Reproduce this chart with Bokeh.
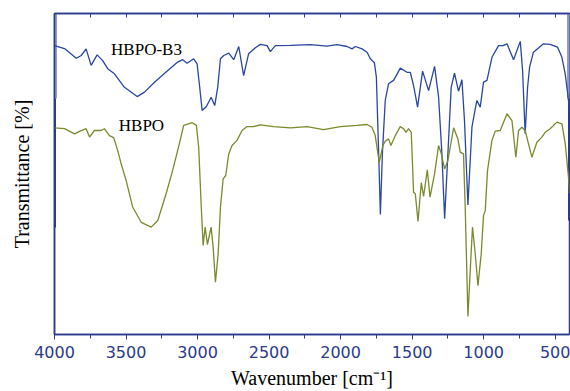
from bokeh.plotting import figure
from bokeh.models import Range1d, LinearAxis, FixedTicker, Label
from bokeh.embed import file_html
from bokeh.resources import INLINE

# HBPO-B3 spectrum (wavenumber cm-1, transmittance arb. units)
wn_b3 = [4000, 3930, 3848, 3813, 3779, 3744, 3702, 3663, 3628, 3581, 3511, 3422, 3371, 3301,
         3208, 3139, 3104, 3073, 3027, 3003, 2985, 2968, 2938, 2905, 2880, 2859, 2840, 2817,
         2782, 2747, 2712, 2678, 2643, 2596, 2561, 2514, 2491, 2456, 2351, 2212, 2095, 2025,
         1955, 1920, 1897, 1850, 1815, 1792, 1764, 1750, 1734, 1722, 1708, 1688, 1665, 1630,
         1611, 1583, 1536, 1513, 1490, 1462, 1427, 1385, 1343, 1315, 1292, 1273, 1250, 1227,
         1204, 1176, 1152, 1134, 1110, 1082, 1059, 1047, 1024, 1001, 977, 942, 896, 865, 837,
         791, 744, 728, 710, 693, 679, 652, 582, 535, 484, 453, 430, 407, 400]
t_b3 = [96.3, 95.3, 92.1, 93.0, 95.2, 89.7, 93.2, 91.3, 88.6, 86.9, 82.4, 79.3, 80.8, 84.1,
        88.0, 90.8, 91.6, 90.4, 91.9, 90.2, 82.4, 74.7, 76.0, 79.1, 76.3, 82.4, 91.9, 93.0,
        93.8, 91.6, 96.0, 86.3, 93.6, 95.6, 96.7, 96.3, 94.3, 96.3, 96.4, 96.6, 96.1, 96.6,
        96.0, 95.2, 96.0, 95.2, 94.1, 91.9, 90.6, 85.8, 60.3, 40.0, 60.3, 78.0, 83.6, 84.7,
        86.3, 88.8, 87.4, 87.4, 83.0, 75.8, 87.8, 81.3, 89.4, 79.1, 60.3, 38.6, 60.3, 82.4,
        87.1, 81.1, 84.9, 71.3, 43.2, 69.1, 75.2, 78.0, 75.8, 84.1, 84.7, 92.4, 96.3, 96.3, 96.9,
        91.6, 97.7, 88.0, 66.9, 82.4, 89.1, 94.1, 96.9, 96.7, 95.8, 92.4, 86.9, 78.0, 74.0]

# HBPO spectrum
wn_hbpo = [4000, 3930, 3860, 3825, 3779, 3755, 3721, 3674, 3651, 3616, 3586, 3558, 3534, 3499,
           3453, 3394, 3324, 3278, 3220, 3174, 3127, 3097, 3038, 3008, 2992, 2975, 2961, 2947,
           2931, 2905, 2891, 2875, 2856, 2840, 2821, 2803, 2782, 2759, 2724, 2689, 2654, 2608,
           2561, 2468, 2351, 2235, 2119, 2002, 1885, 1815, 1781, 1758, 1730, 1704, 1688, 1665,
           1648, 1618, 1583, 1560, 1543, 1525, 1506, 1490, 1478, 1459, 1436, 1420, 1394, 1375,
           1343, 1315, 1296, 1273, 1250, 1210, 1180, 1164, 1141, 1129, 1110, 1094, 1078, 1059,
           1040, 1017, 1001, 989, 973, 942, 919, 884, 837, 802, 775, 756, 733, 710, 687, 663,
           628, 593, 570, 535, 488, 453, 430, 407, 400]
t_hbpo = [68.9, 68.6, 66.9, 67.7, 68.6, 65.8, 68.0, 68.0, 68.6, 66.3, 65.6, 61.3, 56.9, 51.3,
          42.4, 37.4, 35.8, 38.0, 46.9, 54.7, 63.6, 69.7, 70.6, 69.7, 62.4, 43.6, 29.7, 35.8,
          30.0, 35.8, 29.1, 17.4, 26.9, 42.4, 51.9, 53.0, 60.2, 63.0, 64.7, 68.0, 69.3, 69.3,
          69.9, 69.3, 68.9, 69.3, 68.3, 69.3, 69.7, 70.0, 69.1, 66.3, 57.4, 63.0, 64.4, 65.2,
          63.0, 66.3, 69.3, 68.6, 67.4, 68.6, 67.4, 47.4, 46.9, 37.7, 50.6, 46.0, 54.9, 45.8,
          53.6, 63.0, 60.2, 55.2, 58.0, 68.9, 65.2, 60.8, 60.2, 42.4, 6.0, 21.3, 35.8, 26.9,
          16.3, 26.9, 39.7, 41.3, 54.7, 64.7, 67.8, 68.0, 73.6, 71.3, 59.1, 68.0, 69.1, 68.0,
          63.6, 59.1, 64.1, 65.8, 67.4, 68.6, 70.8, 70.2, 63.7, 52.4, 47.0]

x_ticks = [4000, 3500, 3000, 2500, 2000, 1500, 1000, 500]
x_minor = [3750, 3250, 2750, 2250, 1750, 1250, 750]

NAVY = "#2b3a8a"
BLUE = "#2946a2"
OLIVE = "#7a8a2c"
SERIF = "Liberation Serif"

p = figure(width=570, height=391, output_backend="svg", toolbar_location=None,
           x_range=Range1d(4000, 400), y_range=Range1d(0, 107),
           min_border_left=54, min_border_right=1, min_border_top=13, min_border_bottom=57,
           background_fill_color="white", border_fill_color="white")
p.grid.visible = False
p.outline_line_color = NAVY
p.outline_line_width = 1.5

# bottom axis
xa = p.xaxis[0]
xa.ticker = FixedTicker(ticks=x_ticks, minor_ticks=x_minor)
xa.axis_line_color = NAVY
xa.axis_line_width = 1.5
xa.major_tick_line_color = NAVY
xa.minor_tick_line_color = NAVY
xa.major_tick_out = 5
xa.major_tick_in = 0
xa.minor_tick_out = 4
xa.minor_tick_in = 0
xa.major_label_text_font = "DejaVu Sans"
xa.major_label_text_font_size = "16px"
xa.major_label_text_color = NAVY
xa.major_label_standoff = 6
xa.axis_label = "Wavenumber [cm\u207b\u00b9]"
xa.axis_label_text_font = SERIF
xa.axis_label_text_font_size = "20px"
xa.axis_label_text_font_style = "normal"
xa.axis_label_text_color = "black"
xa.axis_label_standoff = 6

# top axis with inward ticks
top = LinearAxis(ticker=FixedTicker(ticks=x_ticks, minor_ticks=x_minor),
                 major_label_text_font_size="0px", major_label_standoff=0,
                 major_label_overrides={t: "" for t in x_ticks},
                 axis_line_color=NAVY, axis_line_width=1.5,
                 major_tick_line_color=NAVY, minor_tick_line_color=NAVY,
                 major_tick_in=4, major_tick_out=0, minor_tick_in=4, minor_tick_out=0)
p.add_layout(top, "above")

# left axis
ya = p.yaxis[0]
ya.ticker = FixedTicker(ticks=[])
ya.axis_line_color = NAVY
ya.axis_line_width = 1.5
ya.major_tick_line_color = None
ya.minor_tick_line_color = None
ya.major_label_text_font_size = "0px"
ya.axis_label = "Transmittance [%]"
ya.axis_label_text_font = SERIF
ya.axis_label_text_font_size = "20px"
ya.axis_label_text_font_style = "normal"
ya.axis_label_text_color = "black"
ya.axis_label_standoff = 22

# edge bands of the original frame
band_light = [78.7, 107]
band_dark_left = [35.7, 78.7]
band_dark_right = [38.0, 77.0]
p.segment(x0=[4000, 400], y0=[band_light[0]] * 2, x1=[4000, 400], y1=[band_light[1]] * 2,
          line_color="#8e9bcc", line_width=5)
p.segment(x0=[4000], y0=[band_dark_left[0]], x1=[4000], y1=[band_dark_left[1]],
          line_color=NAVY, line_width=3)
p.segment(x0=[400], y0=[band_dark_right[0]], x1=[400], y1=[band_dark_right[1]],
          line_color=NAVY, line_width=3)

p.line(wn_b3, t_b3, line_color=BLUE, line_width=1.3)
p.line(wn_hbpo, t_hbpo, line_color=OLIVE, line_width=1.3)

p.add_layout(Label(x=3357, y=95, text="HBPO-B3", text_font=SERIF, text_font_size="17px",
                   text_align="center", text_baseline="middle", text_color="black"))
p.add_layout(Label(x=3392, y=69.7, text="HBPO", text_font=SERIF, text_font_size="17px",
                   text_align="center", text_baseline="middle", text_color="black"))

open("out.html", "w").write(file_html(p, INLINE))
